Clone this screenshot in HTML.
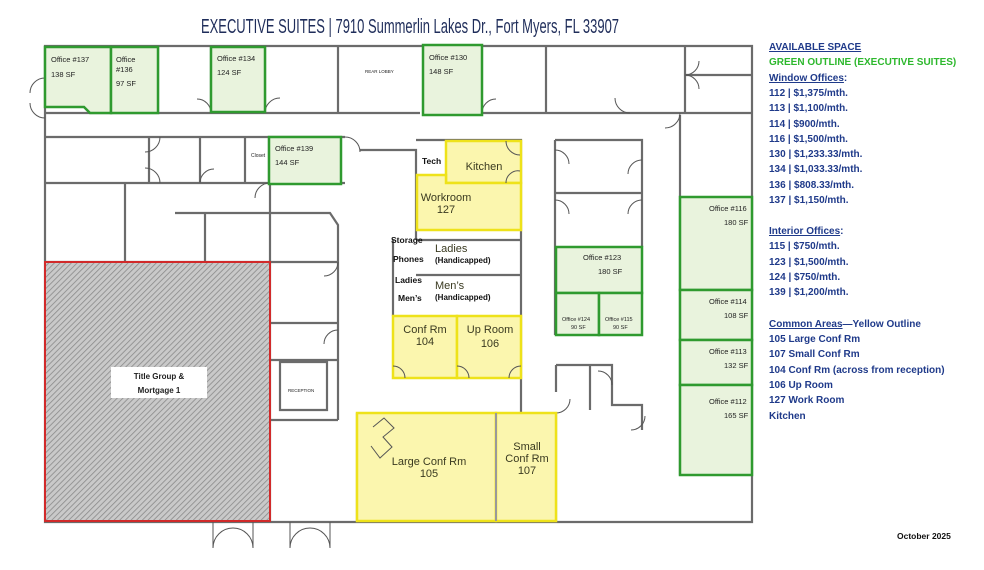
<!DOCTYPE html>
<html><head><meta charset="utf-8"><style>
html,body{margin:0;padding:0;background:#fff;}
svg{display:block}
.w{fill:none;stroke:#6b6b6b;stroke-width:2.2}
.d{fill:none;stroke:#555;stroke-width:1}
.g{fill:#e9f3dd;stroke:#2f9a2f;stroke-width:2.5}
.y{fill:#fbf6ae;stroke:#eee21a;stroke-width:2.5}
.t{font-family:"Liberation Sans",Arial,sans-serif;font-size:7.5px;fill:#222}
.ty{font-family:"Liberation Sans",Arial,sans-serif;font-size:11px;fill:#3a3a20;text-anchor:middle}
.tb{font-family:"Liberation Sans",Arial,sans-serif;font-size:8.5px;font-weight:bold;fill:#111}
.r{font-family:"Liberation Sans",Arial,sans-serif;font-size:10px;font-weight:bold;fill:#1f3a8a}
</style></head><body>
<svg width="984" height="570" viewBox="0 0 984 570" xmlns="http://www.w3.org/2000/svg">
<defs>
<pattern id="h" width="4" height="4" patternUnits="userSpaceOnUse" patternTransform="rotate(45)">
<rect width="4" height="4" fill="#c9c9c9"/><line x1="0" y1="0" x2="0" y2="4" stroke="#8a8a8a" stroke-width="1.6"/>
</pattern>
</defs>
<text x="410" y="33" text-anchor="middle" font-family="Liberation Sans,Arial,sans-serif" font-size="20" fill="#1f2d5a" textLength="418" lengthAdjust="spacingAndGlyphs">EXECUTIVE SUITES | 7910 Summerlin Lakes Dr., Fort Myers, FL 33907</text>

<path class="w" d="M45 46 H752 V522 H45 Z"/>
<path class="w" d="M158 47 V113 M211 47 V113 M265 47 V113 M338 47 V113 M45 113 H420 M482 113 H752 M546 47 V113 M685 47 V113 M685 75 H752"/>
<path class="w" d="M45 137 H345 M45 183 H345 M149 137 V183 M200 137 V183 M245 137 V183 M269 137 V183 M360 150 H416 V240"/>
<path class="w" d="M45 262 H270 M125 183 V262 M175 213 H205 V262 M205 213 H330 L338 225 V262 M270 183 V522 M270 262 H338 V330 M270 323 H338 M338 330 V420 M270 360 H338 M280 362 H327 V410 H280 Z M270 420 H338"/>
<path class="w" d="M416 140 H521 V520 M416 240 H521 M416 275 H521 M393 240 V316"/>
<path class="w" d="M555 140 H642 V247 M555 140 V335 M555 193 H642 M556 365 H612 V405 H642 V430 M556 365 V392 M590 365 V410 M612 365 V405 M642 405 V430 M680 115 V475 M357 413 V522 M556 413 V522"/>
<path class="d" d="M45 78 A15 15 0 0 0 30 93 M45 118 A15 15 0 0 1 30 103 M111 113 A15 15 0 0 1 126 98 M211 113 A14 14 0 0 0 197 99 M265 113 A15 15 0 0 1 280 98 M423 113 A15 15 0 0 1 438 98 M482 113 A14 14 0 0 1 496 99 M630 113 A15 15 0 0 1 615 98 M685 75 A14 14 0 0 1 699 89 M685 75 A14 14 0 0 0 699 61 M680 113 A15 15 0 0 1 665 128 M345 137 A15 15 0 0 1 360 152 M160 137 A15 15 0 0 1 145 152 M160 183 A15 15 0 0 0 145 168 M200 183 A14 14 0 0 1 214 169 M270 183 A15 15 0 0 0 255 198 M338 262 A14 14 0 0 1 324 276 M338 330 A14 14 0 0 0 324 344 M555 150 A14 14 0 0 1 569 164 M555 200 A14 14 0 0 1 569 214 M642 160 A14 14 0 0 0 628 174 M642 200 A14 14 0 0 0 628 214 M680 240 A14 14 0 0 1 694 254 M680 385 A14 14 0 0 1 694 399 M556 413 A14 14 0 0 0 570 399 M612 385 A14 14 0 0 0 598 371 M631 430 A14 14 0 0 0 645 416 M213 522 V548 M253 522 V548 M213 548 A20 20 0 0 1 233 528 M253 548 A20 20 0 0 0 233 528 M290 522 V548 M330 522 V548 M290 548 A20 20 0 0 1 310 528 M330 548 A20 20 0 0 0 310 528"/>

<rect x="45" y="262" width="225" height="259" fill="url(#h)" stroke="#d12a2a" stroke-width="2"/>
<rect x="111" y="367" width="96" height="31" fill="#fff"/>
<text class="t" x="159" y="379" text-anchor="middle" font-weight="bold" style="font-size:8px">Title Group &amp;</text>
<text class="t" x="159" y="393" text-anchor="middle" font-weight="bold" style="font-size:8px">Mortgage 1</text>

<path class="g" d="M45 47 H111 V113 H90 L84 107 H45 Z"/>
<rect class="g" x="111" y="47" width="47" height="66"/>
<rect class="g" x="211" y="47" width="54" height="65"/>
<rect class="g" x="423" y="45" width="59" height="70"/>
<rect class="g" x="269" y="137" width="72" height="47"/>
<rect class="g" x="680" y="197" width="72" height="93"/>
<rect class="g" x="680" y="290" width="72" height="50"/>
<rect class="g" x="680" y="340" width="72" height="45"/>
<rect class="g" x="680" y="385" width="72" height="90"/>
<rect class="g" x="556" y="247" width="86" height="46"/>
<rect class="g" x="556" y="293" width="43" height="42"/>
<rect class="g" x="599" y="293" width="43" height="42"/>

<text class="t" x="51" y="62">Office #137</text><text class="t" x="51" y="77">138 SF</text>
<text class="t" x="116" y="62">Office</text><text class="t" x="116" y="72">#136</text><text class="t" x="116" y="86">97 SF</text>
<text class="t" x="217" y="61">Office #134</text><text class="t" x="217" y="75">124 SF</text>
<text class="t" x="429" y="60">Office #130</text><text class="t" x="429" y="74">148 SF</text>
<text class="t" x="275" y="151">Office #139</text><text class="t" x="275" y="165">144 SF</text>
<text class="t" x="251" y="157" style="font-size:5px">Closet</text>
<text class="t" x="365" y="73" style="font-size:4.5px">REAR LOBBY</text>
<text class="t" x="709" y="211">Office #116</text><text class="t" x="724" y="225">180 SF</text>
<text class="t" x="709" y="304">Office #114</text><text class="t" x="724" y="318">108 SF</text>
<text class="t" x="709" y="354">Office #113</text><text class="t" x="724" y="368">132 SF</text>
<text class="t" x="709" y="404">Office #112</text><text class="t" x="724" y="418">165 SF</text>
<text class="t" x="583" y="260">Office #123</text><text class="t" x="598" y="274">180 SF</text>
<text class="t" x="562" y="321" style="font-size:5.5px">Office #124</text><text class="t" x="571" y="329" style="font-size:5.5px">90 SF</text>
<text class="t" x="605" y="321" style="font-size:5.5px">Office #115</text><text class="t" x="613" y="329" style="font-size:5.5px">90 SF</text>
<text class="t" x="288" y="392" style="font-size:4.5px">RECEPTION</text>

<rect class="y" x="446" y="141" width="75" height="42"/>
<path class="y" d="M417 175 H446 V183 H521 V230 H417 Z"/>
<rect class="y" x="393" y="316" width="64" height="62"/>
<rect class="y" x="457" y="316" width="64" height="62"/>
<rect class="y" x="357" y="413" width="139" height="108"/>
<rect class="y" x="496" y="413" width="60" height="108"/>
<path class="d" d="M506 141 A14 14 0 0 0 520 155 M506 183 A12 12 0 0 1 520 171 M393 366 A12 12 0 0 1 405 378 M457 366 A12 12 0 0 1 469 378 M521 366 A12 12 0 0 0 509 378 M373 427 L384 418 L394 428 L383 437 L392 447 L380 458 L371 446"/>
<path d="M496 413 V521" stroke="#999" stroke-width="2" fill="none"/>
<text class="ty" x="484" y="170">Kitchen</text>
<text class="ty" x="446" y="201">Workroom</text><text class="ty" x="446" y="213">127</text>
<text class="ty" x="425" y="333">Conf Rm</text><text class="ty" x="425" y="345">104</text>
<text class="ty" x="490" y="333">Up Room</text><text class="ty" x="490" y="347">106</text>
<text class="ty" x="429" y="465">Large Conf Rm</text><text class="ty" x="429" y="477">105</text>
<text class="ty" x="527" y="450">Small</text><text class="ty" x="527" y="462">Conf Rm</text><text class="ty" x="527" y="474">107</text>
<text class="tb" x="422" y="164">Tech</text>
<text class="tb" x="391" y="243">Storage</text>
<text class="tb" x="393" y="262">Phones</text>
<text class="tb" x="395" y="283">Ladies</text>
<text class="tb" x="398" y="301">Men’s</text>
<text class="ty" x="435" y="252" style="text-anchor:start">Ladies</text>
<text class="tb" x="435" y="263" style="font-size:8px">(Handicapped)</text>
<text class="ty" x="435" y="289" style="text-anchor:start">Men’s</text>
<text class="tb" x="435" y="300" style="font-size:8px">(Handicapped)</text>

<text class="r" x="769" y="50" text-decoration="underline">AVAILABLE SPACE</text>
<text class="r" x="769" y="65" style="fill:#2db82d">GREEN OUTLINE (EXECUTIVE SUITES)</text>
<text class="r" x="769" y="81"><tspan text-decoration="underline">Window Offices</tspan>:</text>
<text class="r" x="769" y="96">112 | $1,375/mth.</text>
<text class="r" x="769" y="111">113 | $1,100/mth.</text>
<text class="r" x="769" y="127">114 | $900/mth.</text>
<text class="r" x="769" y="142">116 | $1,500/mth.</text>
<text class="r" x="769" y="157">130 | $1,233.33/mth.</text>
<text class="r" x="769" y="172">134 | $1,033.33/mth.</text>
<text class="r" x="769" y="188">136 | $808.33/mth.</text>
<text class="r" x="769" y="203">137 | $1,150/mth.</text>
<text class="r" x="769" y="234"><tspan text-decoration="underline">Interior Offices</tspan>:</text>
<text class="r" x="769" y="249">115 | $750/mth.</text>
<text class="r" x="769" y="265">123 | $1,500/mth.</text>
<text class="r" x="769" y="280">124 | $750/mth.</text>
<text class="r" x="769" y="295">139 | $1,200/mth.</text>
<text class="r" x="769" y="327"><tspan text-decoration="underline">Common Areas</tspan>—Yellow Outline</text>
<text class="r" x="769" y="342">105 Large Conf Rm</text>
<text class="r" x="769" y="357">107 Small Conf Rm</text>
<text class="r" x="769" y="373">104 Conf Rm (across from reception)</text>
<text class="r" x="769" y="388">106 Up Room</text>
<text class="r" x="769" y="403">127 Work Room</text>
<text class="r" x="769" y="419">Kitchen</text>
<text class="tb" x="897" y="539">October 2025</text>
</svg>
</body></html>
